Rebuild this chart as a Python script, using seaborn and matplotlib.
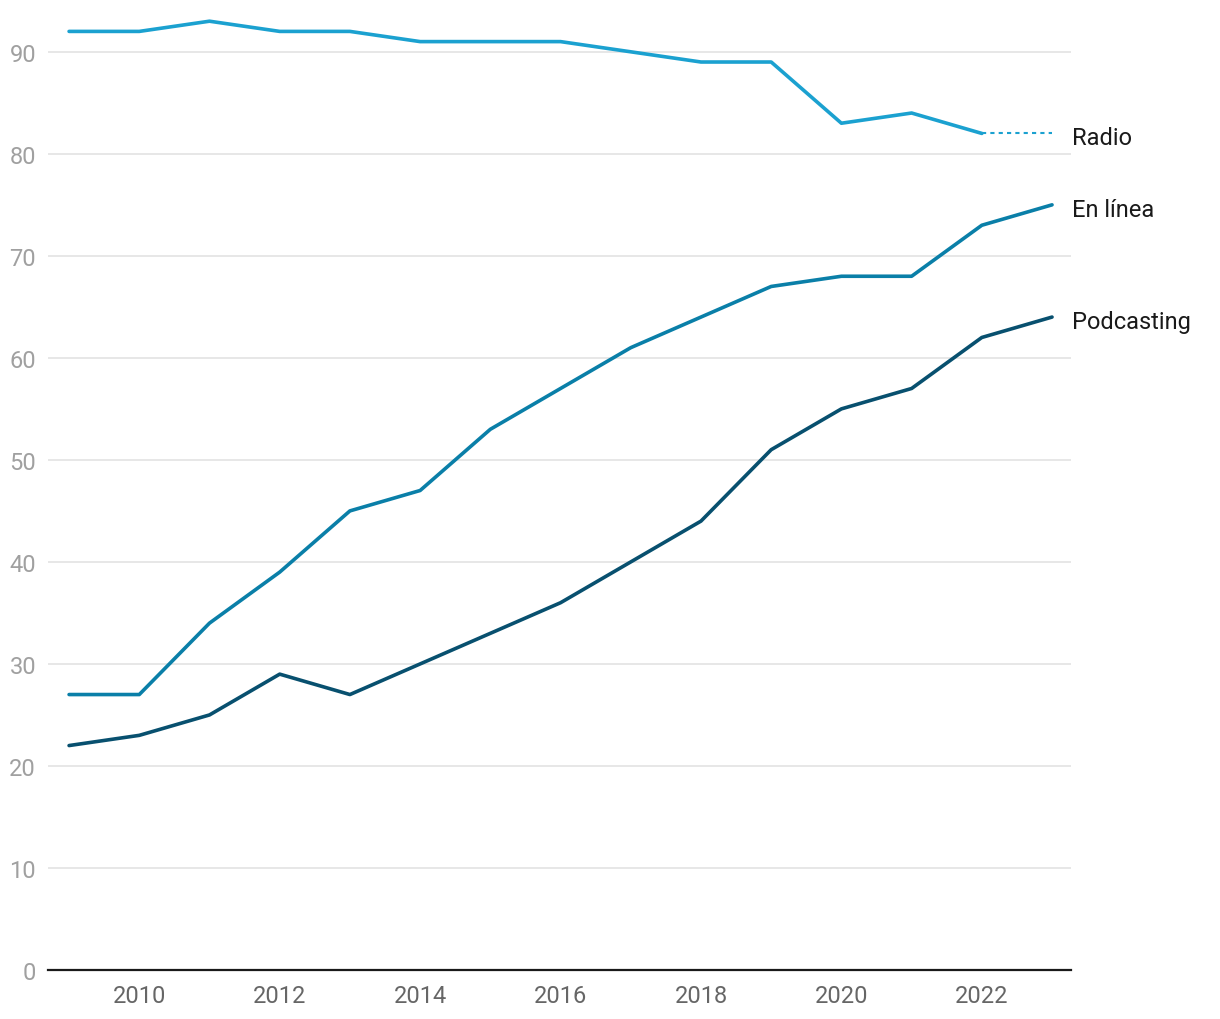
import pandas as pd
import matplotlib.pyplot as plt
import seaborn as sns

# Data
years = list(range(2009, 2024))
radio = [92, 92, 93, 92, 92, 91, 91, 91, 90, 89, 89, 83, 84, 82]  # 2009-2022
radio_ext_years = [2022, 2023]
radio_ext = [82, 82]
en_linea = [27, 27, 34, 39, 45, 47, 53, 57, 61, 64, 67, 68, 68, 73, 75]
podcasting = [22, 23, 25, 29, 27, 30, 33, 36, 40, 44, 51, 55, 57, 62, 64]
series_names = ['Radio', 'En línea', 'Podcasting']
colors = {'Radio': '#1ba1d0', 'En línea': '#0a7fa8', 'Podcasting': '#08506f'}

df = pd.concat([
    pd.DataFrame({'year': years[:len(radio)], 'value': radio, 'serie': 'Radio'}),
    pd.DataFrame({'year': years, 'value': en_linea, 'serie': 'En línea'}),
    pd.DataFrame({'year': years, 'value': podcasting, 'serie': 'Podcasting'}),
])
ext_df = pd.DataFrame({'year': radio_ext_years, 'value': radio_ext})

sns.set_theme(style="white")
plt.rcParams['font.family'] = ['Roboto', 'DejaVu Sans']

fig = plt.figure(figsize=(12.2, 10.2), dpi=100)
ax = fig.add_axes([48 / 1220, 49 / 1020, 1023 / 1220, 959 / 1020])

sns.lineplot(data=df, x='year', y='value', hue='serie', palette=colors,
             hue_order=series_names, linewidth=2.6, legend=False, ax=ax)
sns.lineplot(data=ext_df, x='year', y='value', color=colors['Radio'],
             linewidth=1.5, linestyle=(0, (2, 2)), ax=ax)

ax.set_xlim(2008.7, 2023.27)
ax.set_ylim(0, 94)
ax.set_yticks(range(0, 100, 10))
ax.set_xticks(range(2010, 2023, 2))
ax.grid(axis='y', color='#e0e0e0', linewidth=1.1)
ax.set_axisbelow(True)
for s in ['top', 'right', 'left']:
    ax.spines[s].set_visible(False)
ax.spines['bottom'].set_color('#1a1a1a')
ax.spines['bottom'].set_linewidth(1.6)
ax.tick_params(axis='y', length=0, pad=8.6, labelsize=17, labelcolor='#a0a0a0')
ax.tick_params(axis='x', length=0, pad=10, labelsize=17, labelcolor='#666666')
ax.set_xlabel('')
ax.set_ylabel('')

# End labels
ends = {'Radio': radio_ext[-1], 'En línea': en_linea[-1], 'Podcasting': podcasting[-1]}
for name in series_names:
    ax.annotate(name, xy=(years[-1], ends[name]), xytext=(14.4, -3),
                textcoords='offset points', ha='left', va='center',
                fontsize=17, color='#1a1a1a', annotation_clip=False)

fig.savefig('out.png', dpi=100)
